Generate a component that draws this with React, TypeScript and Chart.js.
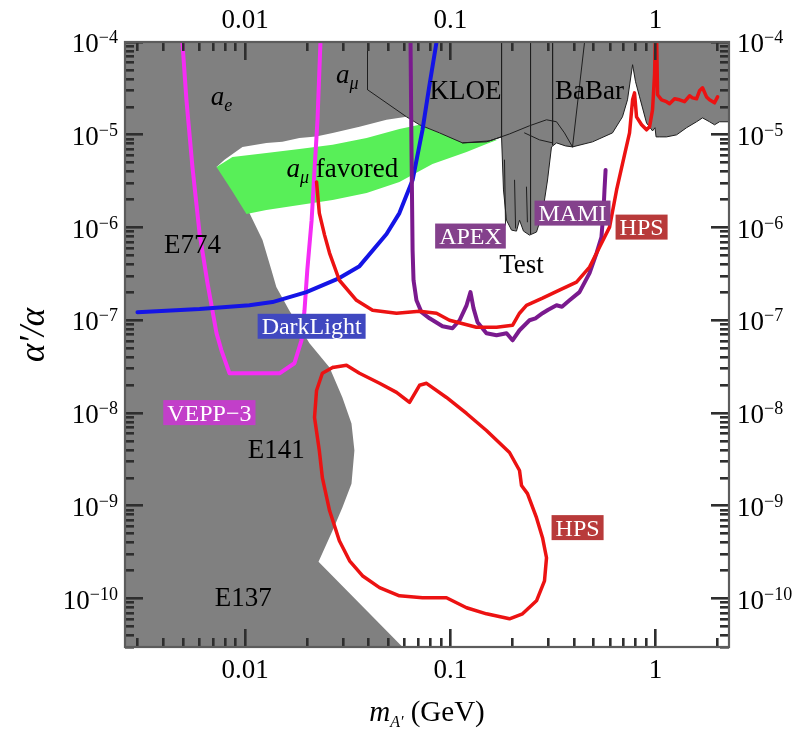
import { useEffect, useRef } from "react";
import { Chart, registerables } from "chart.js";

Chart.register(...registerables);

type Pt = [number, number];

// all points: [m_A' (GeV), alpha'/alpha]
const leftExclusion: Pt[] = [
  [0.001, 1e-12], [0.0585, 1e-12], [0.0585, 3e-11], [0.0228, 2.49e-10], [0.0267, 5.4e-10],
  [0.0298, 9.55e-10], [0.033, 1.73e-9], [0.0341, 3.94e-9], [0.033, 7.71e-9], [0.0298, 1.47e-8],
  [0.0258, 3.1e-8], [0.0206, 5.65e-8], [0.0164, 1.28e-7], [0.0142, 2.28e-7], [0.01345, 3.47e-7],
  [0.01216, 7.31e-7], [0.0105, 1.43e-6], [0.0094, 2.36e-6], [0.0084, 3.87e-6], [0.00726, 4.5e-6],
  [0.00794, 5.36e-6], [0.00859, 6.07e-6], [0.00971, 7.4e-6], [0.0127, 8.17e-6], [0.0152, 8.4e-6],
  [0.0184, 9.25e-6], [0.0222, 9.6e-6], [0.0267, 1.047e-5], [0.0361, 1.216e-5], [0.0489, 1.45e-5],
  [0.0612, 1.56e-5], [0.0612, 2e-4], [0.001, 2e-4],
];

const topExclusion: Pt[] = [
  [0.0395, 2e-4], [0.0395, 3.06e-5], [0.0612, 1.56e-5], [0.0708, 1.28e-5], [0.0886, 1.047e-5],
  [0.1147, 8.17e-6], [0.15, 8.38e-6], [0.1777, 9.48e-6], [0.1816, 2.54e-6], [0.1878, 1.2e-6],
  [0.1987, 9.37e-7], [0.2101, 9.14e-7], [0.2174, 1.2e-6], [0.2273, 9.14e-7], [0.2432, 8.28e-7],
  [0.263, 8.93e-7], [0.2814, 1.43e-6], [0.2977, 3.25e-6], [0.3112, 7.4e-6], [0.3293, 8.17e-6],
  [0.3642, 7.58e-6], [0.394, 7.4e-6], [0.493, 8.38e-6], [0.617, 1.047e-5], [0.69, 1.56e-5],
  [0.73, 2.38e-5], [0.773, 5.69e-5], [0.799, 3.73e-5], [0.836, 2.56e-5], [0.904, 1.34e-5],
  [0.967, 1.1e-5], [0.994, 1.19e-5], [1.006, 9.48e-6], [1.046, 9.48e-6], [1.131, 9.48e-6],
  [1.266, 9.97e-6], [1.416, 1.19e-5], [1.584, 1.38e-5], [1.694, 1.52e-5], [1.833, 1.38e-5],
  [1.939, 1.28e-5], [2.05, 1.38e-5], [2.4, 1.38e-5], [2.4, 2e-4],
];

const aMuLine: Pt[] = [
  [0.1147, 8.17e-6], [0.1552, 8.59e-6], [0.1943, 1.02e-5], [0.2432, 1.25e-5], [0.2943, 1.45e-5],
  [0.3293, 1.38e-5], [0.36, 1.047e-5], [0.394, 7.4e-6],
];
const babarEdge: Pt[] = [[0.2299, 1.047e-5], [0.272, 8.81e-6], [0.315, 8.17e-6]];
const testLines: Pt[][] = [
  [[0.1777, 1e-4], [0.1777, 9.48e-6]],
  [[0.246, 1e-4], [0.246, 8.6e-7]],
  [[0.315, 1e-4], [0.315, 7.8e-6]],
  [[0.451, 1e-4], [0.394, 7.4e-6]],
  [[0.1837, 5.36e-6], [0.1858, 1.06e-6]],
  [[0.2056, 3.25e-6], [0.208, 9.86e-7]],
  [[0.235, 2.74e-6], [0.2375, 1.15e-6]],
];

const aMuFavored: Pt[] = [
  [0.00726, 4.5e-6], [0.00868, 5.77e-6], [0.0127, 6.37e-6], [0.0184, 7.03e-6], [0.0267, 7.78e-6],
  [0.0391, 9.25e-6], [0.0565, 1.156e-5], [0.0708, 1.28e-5], [0.0886, 1.047e-5], [0.1147, 8.38e-6],
  [0.17, 8.81e-6], [0.15, 7.96e-6], [0.12, 6.53e-6], [0.0819, 4.84e-6], [0.0565, 3.1e-6],
  [0.0391, 2.36e-6], [0.0267, 1.98e-6], [0.0184, 1.75e-6], [0.0127, 1.54e-6], [0.01016, 1.4e-6],
  [0.00859, 2.54e-6],
];

const vepp3: Pt[] = [
  [0.00495, 1e-4], [0.00518, 2.38e-5], [0.00554, 4.5e-6], [0.006, 8.71e-7], [0.00656, 2.51e-7],
  [0.00726, 7.24e-8], [0.00767, 4.74e-8], [0.0084, 2.68e-8], [0.01471, 2.68e-8], [0.0174, 3.44e-8],
  [0.01883, 6.08e-8], [0.01948, 1.28e-7], [0.0201, 3.47e-7], [0.0211, 1.2e-6], [0.0218, 4.17e-6],
  [0.02254, 1.45e-5], [0.0233, 1e-4],
];

const darkLight: Pt[] = [
  [0.00299, 1.22e-7], [0.006, 1.32e-7], [0.0105, 1.45e-7], [0.0136, 1.57e-7], [0.0199, 2.01e-7],
  [0.0288, 2.85e-7], [0.0361, 3.83e-7], [0.0489, 8.5e-7], [0.0565, 1.43e-6], [0.0655, 3.25e-6],
  [0.0732, 1.13e-5], [0.0792, 3.46e-5], [0.0857, 1e-4],
];

const apexMami: Pt[] = [
  [0.064, 1e-4], [0.0647, 6.87e-6], [0.0655, 5.7e-7], [0.0662, 2.7e-7], [0.0684, 1.64e-7],
  [0.0724, 1.22e-7], [0.0792, 1.05e-7], [0.0916, 8.61e-8], [0.1025, 8.2e-8], [0.111, 1e-7],
  [0.12, 1.45e-7], [0.1254, 2.01e-7], [0.1297, 1.35e-7], [0.1357, 9.52e-8], [0.15, 7.24e-8],
  [0.168, 6.89e-8], [0.188, 7.24e-8], [0.201, 6.08e-8], [0.2174, 7.8e-8], [0.2432, 1e-7],
  [0.26, 1.05e-7], [0.2814, 1.19e-7], [0.3, 1.3e-7], [0.3293, 1.45e-7], [0.35, 1.4e-7],
  [0.381, 1.64e-7], [0.426, 2.01e-7], [0.477, 3.22e-7], [0.516, 5.3e-7], [0.545, 7.89e-7],
  [0.558, 1.54e-6], [0.564, 2.54e-6], [0.571, 4.17e-6],
];

const hpsUpper: Pt[] = [
  [0.0223, 3.1e-6], [0.023, 1.43e-6], [0.0244, 8.28e-7], [0.0258, 5.3e-7], [0.0288, 2.7e-7],
  [0.0349, 1.64e-7], [0.0418, 1.28e-7], [0.0547, 1.19e-7], [0.0708, 1.25e-7], [0.0857, 1.19e-7],
  [0.0991, 1e-7], [0.134, 8.4e-8], [0.168, 8.4e-8], [0.201, 8.83e-8], [0.2174, 1.19e-7],
  [0.235, 1.45e-7], [0.2814, 1.73e-7], [0.34, 2.11e-7], [0.412, 2.58e-7], [0.477, 3.74e-7],
  [0.534, 6.15e-7], [0.597, 1.01e-6], [0.646, 2.54e-6], [0.706, 6.07e-6], [0.747, 1.047e-5],
  [0.773, 2.38e-5], [0.79, 2.83e-5], [0.808, 1.56e-5], [0.855, 1.28e-5], [0.904, 1.13e-5],
  [0.935, 1.216e-5], [0.967, 1.86e-5], [0.989, 4.44e-5], [1.0, 1.3e-4], [1.011, 1.3e-4],
  [1.023, 2.7e-5], [1.07, 2.38e-5], [1.131, 2.27e-5], [1.17, 2.16e-5], [1.238, 2.44e-5],
  [1.309, 2.38e-5], [1.385, 2.27e-5], [1.464, 2.63e-5], [1.515, 2.5e-5], [1.584, 2.44e-5],
  [1.638, 2.98e-5], [1.694, 3.21e-5], [1.772, 2.56e-5], [1.833, 2.38e-5], [1.939, 2.21e-5],
  [2.005, 2.56e-5],
];

const hpsContour: Pt[] = [
  [0.0267, 3.1e-8], [0.0312, 3.27e-8], [0.0361, 2.68e-8], [0.0452, 2.09e-8], [0.0547, 1.67e-8],
  [0.0633, 1.3e-8], [0.0708, 1.99e-8], [0.0766, 2.09e-8], [0.0958, 1.47e-8], [0.12, 9.88e-9],
  [0.15, 6.48e-9], [0.1943, 3.75e-9], [0.2174, 2.4e-9], [0.2223, 1.65e-9], [0.2377, 1.35e-9],
  [0.263, 7.44e-10], [0.2814, 4.53e-10], [0.2943, 2.75e-10], [0.2877, 1.55e-10], [0.263, 9.44e-11],
  [0.2249, 6.84e-11], [0.1943, 6.04e-11], [0.15, 6.84e-11], [0.12, 7.94e-11], [0.0958, 1.02e-10],
  [0.0732, 1.02e-10], [0.0565, 1.07e-10], [0.0452, 1.31e-10], [0.0373, 1.76e-10], [0.0323, 2.55e-10],
  [0.0288, 4.2e-10], [0.0258, 8.87e-10], [0.0238, 2.01e-9], [0.023, 3.94e-9], [0.0218, 8.95e-9],
  [0.0223, 1.75e-8], [0.0238, 2.68e-8], [0.0267, 3.1e-8],
];

// labels: [text, mass, ratio]
const plainLabels: [string, number, number][] = [
  ["E774", 0.00554, 6.62e-7],
  ["E141", 0.0142, 4.14e-9],
  ["E137", 0.0098, 1.04e-10],
  ["KLOE", 0.1186, 3.06e-5],
  ["BaBar", 0.477, 3.06e-5],
  ["Test", 0.2223, 4.0e-7],
];
const italicLabels: [string, string, string, number, number][] = [
  ["a", "e", "", 0.00767, 2.38e-5],
  ["a", "μ", "", 0.0315, 4.11e-5],
  ["a", "μ", " favored", 0.0298, 3.97e-6],
];
const boxLabels: [string, number, number, string][] = [
  ["DarkLight", 0.0211, 8.61e-8, "#4048c0"],
  ["VEPP\u22123", 0.0067, 1.01e-8, "#c23fc9"],
  ["APEX", 0.1254, 8.09e-7, "#84418c"],
  ["MAMI", 0.394, 1.43e-6, "#84418c"],
  ["HPS", 0.855, 1.01e-6, "#b83a3a"],
  ["HPS", 0.417, 5.81e-10, "#b83a3a"],
];

const xTickLabels: [number, string][] = [[0.01, "0.01"], [0.1, "0.1"], [1, "1"]];
const yTickExponents = [-10, -9, -8, -7, -6, -5, -4];

const X_MIN = 0.0026;
const X_MAX = 2.28;
const Y_MIN = 3e-11;
const Y_MAX = 1e-4;

const FAMILY = '"Liberation Serif", "DejaVu Serif", serif';
const font = (size: number, italic?: boolean) => `${italic ? "italic " : ""}${size}px ${FAMILY}`;

type Part = { t: string; size: number; italic?: boolean; dy?: number };

function rich(ctx: CanvasRenderingContext2D, parts: Part[], x: number, y: number, align: string) {
  let w = 0;
  for (const p of parts) {
    ctx.font = font(p.size, p.italic);
    w += ctx.measureText(p.t).width;
  }
  let cx = align === "left" ? x : align === "right" ? x - w : x - w / 2;
  for (const p of parts) {
    ctx.font = font(p.size, p.italic);
    ctx.fillText(p.t, cx, y + (p.dy || 0));
    cx += ctx.measureText(p.t).width;
  }
}

const overlay = {
  id: "overlay",
  // text and boxes inside the plot
  afterDatasetsDraw(chart: any) {
    const { ctx } = chart;
    const px = (v: number) => chart.scales.x.getPixelForValue(v);
    const py = (v: number) => chart.scales.y.getPixelForValue(v);
    ctx.save();
    ctx.textAlign = "left";
    ctx.textBaseline = "alphabetic";
    ctx.fillStyle = "#000";
    for (const [t, x, y] of plainLabels) rich(ctx, [{ t, size: 27 }], px(x), py(y) + 9, "center");
    for (const [base, sub, rest, x, y] of italicLabels) {
      rich(ctx, [
        { t: base, size: 27, italic: true },
        { t: sub, size: 18, italic: true, dy: 6 },
        { t: rest, size: 27 },
      ], px(x), py(y) + 5, "center");
    }
    for (const [t, x, y, color] of boxLabels) {
      ctx.font = font(24);
      const w = ctx.measureText(t).width + 8;
      const cx = px(x);
      const cy = py(y);
      ctx.fillStyle = color;
      ctx.fillRect(cx - w / 2, cy - 12.5, w, 25);
      ctx.fillStyle = "#fff";
      ctx.fillText(t, cx - w / 2 + 4, cy + 8);
    }
    ctx.restore();
  },
  // frame, inward ticks and axis text
  afterDraw(chart: any) {
    const { ctx, chartArea: a } = chart;
    const px = (v: number) => chart.scales.x.getPixelForValue(v);
    const py = (v: number) => chart.scales.y.getPixelForValue(v);
    ctx.save();
    ctx.globalAlpha = 1;
    ctx.globalCompositeOperation = "source-over";
    ctx.fillStyle = "#2e2e2e";
    const tw = 2.6;
    for (let e = -3; e <= 0; e++) {
      for (let k = 1; k <= 9; k++) {
        const v = k * Math.pow(10, e);
        if (v < X_MIN || v > X_MAX) continue;
        const len = k === 1 ? 18 : 9;
        const x = Math.round(px(v) - tw / 2);
        ctx.fillRect(x, a.bottom - len, tw, len);
        ctx.fillRect(x, a.top, tw, len);
      }
    }
    for (let e = -11; e <= -4; e++) {
      for (let k = 1; k <= 9; k++) {
        const v = k * Math.pow(10, e);
        if (v < Y_MIN * 0.999 || v > Y_MAX * 1.001) continue;
        const len = k === 1 ? 18 : 9;
        const y = Math.round(py(v) - tw / 2);
        ctx.fillRect(a.left, y, len, tw);
        ctx.fillRect(a.right - len, y, len, tw);
      }
    }
    ctx.strokeStyle = "#5c5c5c";
    ctx.lineWidth = 2.2;
    ctx.strokeRect(a.left, a.top, a.right - a.left, a.bottom - a.top);

    ctx.textAlign = "left";
    ctx.textBaseline = "alphabetic";
    ctx.fillStyle = "#000";
    for (const [v, label] of xTickLabels) {
      rich(ctx, [{ t: label, size: 27 }], px(v), 28, "center");
      rich(ctx, [{ t: label, size: 27 }], px(v), 678, "center");
    }
    for (const e of yTickExponents) {
      const y = py(Math.pow(10, e));
      const parts = [{ t: "10", size: 27 }, { t: `\u2212${-e}`, size: 18, dy: -9 }];
      rich(ctx, parts, a.left - 7, y + 10, "right");
      rich(ctx, parts, a.right + 8, y + 10, "left");
    }

    rich(ctx, [
      { t: "m", size: 29, italic: true },
      { t: "A\u2032", size: 16, italic: true, dy: 6 },
      { t: " (GeV)", size: 29 },
    ], (a.left + a.right) / 2, 721, "center");
    ctx.translate(44, 335);
    ctx.rotate(-Math.PI / 2);
    rich(ctx, [{ t: "\u03b1\u2032/\u03b1", size: 35, italic: true }], 0, 0, "center");
    ctx.restore();
  },
};

export default function App() {
  const chartRef = useRef<HTMLCanvasElement>(null);
  const chartInstance = useRef<Chart | null>(null);

  useEffect(() => {
    if (!chartRef.current) return;
    if (chartInstance.current) chartInstance.current.destroy();

    const toXY = (pts: Pt[]) => pts.map(([x, y]) => ({ x, y }));
    const region = (pts: Pt[], color: string, order: number, border?: string) => ({
      data: toXY(pts),
      showLine: true,
      fill: "shape",
      backgroundColor: color,
      borderColor: border || "rgba(0,0,0,0)",
      borderWidth: border ? 1 : 0,
      pointRadius: 0,
      order,
    });
    const curve = (pts: Pt[], color: string, width: number, order: number) => ({
      data: toXY(pts),
      showLine: true,
      fill: false,
      borderColor: color,
      borderWidth: width,
      borderJoinStyle: "round",
      borderCapStyle: "round",
      pointRadius: 0,
      order,
      clip: 0,
    });

    const datasets: any[] = [
      region(leftExclusion, "#808080", 20),
      region(aMuFavored, "#58ef58", 19),
      region(topExclusion, "#808080", 18, "#1e1e1e"),
      curve(aMuLine, "#1e1e1e", 1, 17),
      curve(babarEdge, "#1e1e1e", 1, 17),
      ...testLines.map((seg) => curve(seg, "#1e1e1e", 1, 17)),
      curve(vepp3, "#f52cf5", 4, 6),
      curve(darkLight, "#1414e6", 4, 5),
      curve(apexMami, "#7a1a8e", 4, 4),
      curve(hpsUpper, "#ec1212", 3.5, 3),
      curve(hpsContour, "#ec1212", 3.5, 2),
    ];

    chartInstance.current = new Chart(chartRef.current, {
      type: "scatter",
      data: { datasets },
      options: {
        responsive: false,
        animation: false,
        events: [],
        layout: { padding: { left: 125, top: 42, right: 77, bottom: 84 } },
        scales: {
          x: { type: "logarithmic", min: X_MIN, max: X_MAX, display: false },
          y: { type: "logarithmic", min: Y_MIN, max: Y_MAX, display: false },
        },
        plugins: { legend: { display: false }, tooltip: { enabled: false } },
      } as any,
      plugins: [overlay],
    });

    return () => {
      if (chartInstance.current) {
        chartInstance.current.destroy();
        chartInstance.current = null;
      }
    };
  }, []);

  return (
    <div style={{ position: "fixed", left: 0, top: 0, width: 806, height: 731, background: "#fff" }}>
      <canvas ref={chartRef} width={806} height={731} style={{ width: 806, height: 731 }}></canvas>
    </div>
  );
}
